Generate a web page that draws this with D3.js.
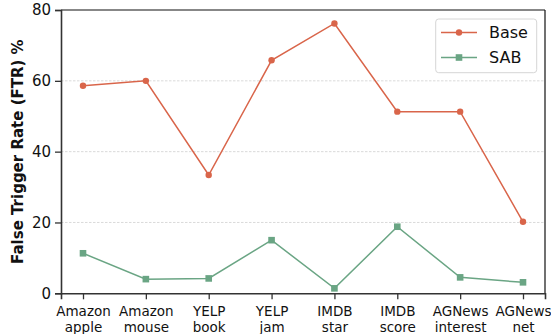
<!DOCTYPE html>
<html>
<head>
<meta charset="utf-8">
<script src="https://cdn.jsdelivr.net/npm/d3@7"></script>
<style>
  html, body { margin: 0; padding: 0; background: #fff; }
  svg { display: block; font-family: "DejaVu Sans", sans-serif; }
</style>
</head>
<body>
<svg id="chart" width="551" height="334"></svg>
<script>
const categories = [["Amazon","apple"],["Amazon","mouse"],["YELP","book"],["YELP","jam"],["IMDB","star"],["IMDB","score"],["AGNews","interest"],["AGNews","net"]];
const baseValues = [58.6, 60.0, 33.4, 65.8, 76.2, 51.3, 51.3, 20.2];
const sabValues  = [11.3, 4.0, 4.2, 15.0, 1.4, 18.8, 4.5, 3.1];
const yTicks = [0, 20, 40, 60, 80];
const gridTicks = [20, 40, 60];
const seriesNames = ["Base", "SAB"];
const yLabel = "False Trigger Rate (FTR) %";

const colBase = "#d9654a";
const colSab = "#6aa584";

const svg = d3.select("#chart");
const L = 61, R = 545, T = 10, B = 293.3;

const x = d3.scaleLinear().domain([-0.35, categories.length - 1 + 0.35]).range([L, R]);
const y = d3.scaleLinear().domain([0, 80]).range([B, T]);

// grid
svg.append("g").selectAll("line").data(gridTicks).join("line")
  .attr("x1", L).attr("x2", R)
  .attr("y1", d => y(d)).attr("y2", d => y(d))
  .attr("stroke", "#d0d0d0").attr("stroke-width", 0.8)
  .attr("stroke-dasharray", "2.5,1.5");

// top/right spines
svg.append("line").attr("x1", L).attr("x2", R).attr("y1", T).attr("y2", T).attr("stroke", "#111").attr("stroke-width", 1.2);
svg.append("line").attr("x1", R).attr("x2", R).attr("y1", T).attr("y2", B).attr("stroke", "#111").attr("stroke-width", 1.2);

// y axis
const yAxis = d3.axisLeft(y).tickValues(yTicks).tickSize(6).tickPadding(4).tickFormat(d3.format("d"));
const gy = svg.append("g").attr("transform", `translate(${L},0)`).call(yAxis);
gy.select(".domain").attr("stroke", "#333").attr("stroke-width", 1.6);
gy.selectAll(".tick line").attr("stroke", "#333").attr("stroke-width", 1.3);
gy.selectAll(".tick text").attr("font-size", 15).attr("fill", "#111").attr("font-family", "DejaVu Sans");

// x axis
const xAxis = d3.axisBottom(x).tickValues(d3.range(categories.length)).tickSize(6).tickPadding(5).tickFormat("");
const gx = svg.append("g").attr("transform", `translate(0,${B})`).call(xAxis);
gx.select(".domain").attr("stroke", "#333").attr("stroke-width", 1.6);
gx.selectAll(".tick line").attr("stroke", "#333").attr("stroke-width", 1.3);
gx.selectAll(".tick text").remove();
gx.selectAll(".tick").each(function(d) {
  const t = d3.select(this).append("text")
    .attr("text-anchor", "middle").attr("font-size", 13.5).attr("fill", "#111")
    .attr("font-family", "DejaVu Sans");
  categories[d].forEach((s, i) => {
    t.append("tspan").attr("x", 0).attr("y", 23 + i * 16).text(s);
  });
});

// y label
svg.append("text")
  .attr("transform", `translate(22.5,${(T + B) / 2}) rotate(-90)`)
  .attr("text-anchor", "middle")
  .attr("font-size", 15).attr("font-weight", "bold").attr("fill", "#111")
  .attr("font-family", "DejaVu Sans")
  .text(yLabel);

// lines
const line = d3.line().x((d, i) => x(i)).y(d => y(d));
svg.append("path").datum(baseValues).attr("d", line).attr("fill", "none").attr("stroke", colBase).attr("stroke-width", 1.5);
svg.append("path").datum(sabValues).attr("d", line).attr("fill", "none").attr("stroke", colSab).attr("stroke-width", 1.5);

svg.append("g").selectAll("circle").data(baseValues).join("circle")
  .attr("cx", (d, i) => x(i)).attr("cy", d => y(d)).attr("r", 3.2).attr("fill", colBase);
svg.append("g").selectAll("rect").data(sabValues).join("rect")
  .attr("x", (d, i) => x(i) - 3.3).attr("y", d => y(d) - 3.3)
  .attr("width", 6.6).attr("height", 6.6).attr("fill", colSab);

// legend
const lg = svg.append("g");
lg.append("rect").attr("x", 435.7).attr("y", 19).attr("width", 101).attr("height", 53.7)
  .attr("rx", 3).attr("fill", "#fff").attr("fill-opacity", 0.8)
  .attr("stroke", "#d6d6d6").attr("stroke-width", 1);
const lcol = [colBase, colSab];
seriesNames.forEach((name, i) => {
  const cy = 32.5 + i * 25;
  lg.append("line").attr("x1", 441).attr("x2", 477).attr("y1", cy).attr("y2", cy)
    .attr("stroke", lcol[i]).attr("stroke-width", 1.5);
  if (i === 0) {
    lg.append("circle").attr("cx", 459).attr("cy", cy).attr("r", 3.2).attr("fill", lcol[i]);
  } else {
    lg.append("rect").attr("x", 459 - 3.3).attr("y", cy - 3.3).attr("width", 6.6).attr("height", 6.6).attr("fill", lcol[i]);
  }
  lg.append("text").attr("x", 489).attr("y", cy).attr("dy", "0.36em")
    .attr("font-size", 16).attr("fill", "#111").attr("font-family", "DejaVu Sans")
    .text(name);
});
</script>
</body>
</html>
